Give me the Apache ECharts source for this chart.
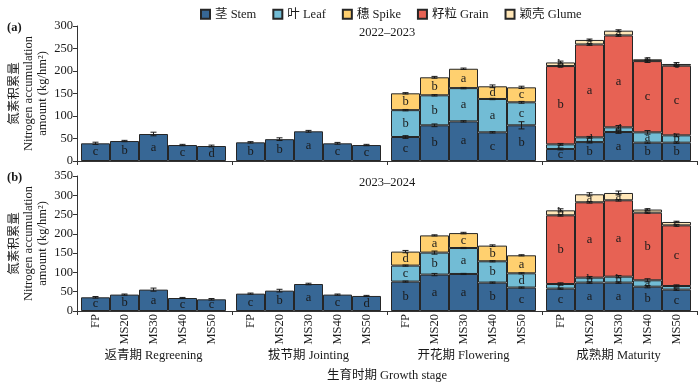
<!DOCTYPE html>
<html>
<head>
<meta charset="utf-8">
<script src="https://cdn.jsdelivr.net/npm/echarts@6/dist/echarts.min.js"></script>
<style>html,body{margin:0;padding:0;background:#fff}#c{width:700px;height:387px}</style>
</head>
<body>
<div id="c"></div>
<script>
const groups = ['返青期 Regreening', '拔节期 Jointing', '开花期 Flowering', '成熟期 Maturity'];
const treatments = ['FP', 'MS20', 'MS30', 'MS40', 'MS50'];
const years = ['2022–2023', '2023–2024'];
const panelTags = ['(a)', '(b)'];
const components = ['茎 Stem', '叶 Leaf', '穗 Spike', '籽粒 Grain', '颖壳 Glume'];
const colors = ['#376795', '#72bcd5', '#ffd06f', '#e76254', '#ffe6b7'];
const yMax = [300, 350];
const yTicks = [50, 50];

const N5 = [null, null, null, null, null];
// 2022–2023 (segment values, kg/hm2): 4 growth stages x 5 treatments
const stemA  = [39.3, 44.4, 60, 35.5, 33.3, 41.5, 48.5, 66, 39.3, 35.5, 53.3, 79.3, 88, 63.7, 79.3, 26.7, 42, 64.4, 40.7, 40.7];
const leafA  = [...N5, ...N5, 59.7, 66.7, 74, 74.1, 51.1, 10.3, 10.6, 10.4, 23, 16.3];
const spikeA = [...N5, ...N5, 37.4, 40, 43, 28.2, 33.3, ...N5];
const grainA = [...N5, ...N5, ...N5, 174, 206.4, 204.2, 158.3, 154.8];
const glumeA = [...N5, ...N5, ...N5, 8, 10, 10.6, 4, 3.8];
// 2023–2024
const stemB  = [35.5, 42.5, 55.4, 33.7, 30.3, 45, 52.8, 70, 42.5, 39, 76.2, 94.4, 96, 73.6, 60.7, 58, 73.6, 73.6, 63, 55.4];
const leafB  = [...N5, ...N5, 41.5, 57, 67.3, 55.3, 37, 12, 12.9, 15.4, 16.6, 9.4];
const spikeB = [...N5, ...N5, 36.3, 44.6, 38.7, 40.6, 46.7, ...N5];
const grainB = [...N5, ...N5, ...N5, 178, 195.3, 198, 175.4, 157.2];
const glumeB = [...N5, ...N5, ...N5, 13, 20.8, 19, 8, 8.8];

// standard errors
const stemErrA  = [2.5, 1.5, 4, 1.5, 2, 1.5, 3, 2, 2, 1.5, 3, 3, 1.5, 1.5, 8, 2, 2, 3, 1.5, 1.5];
const leafErrA  = [...N5, ...N5, 1.5, 1.5, 1.5, 1.5, 2, 2, 2, 4, 4, 3];
const spikeErrA = [...N5, ...N5, 1.5, 2, 1.5, 3, 2.5, ...N5];
const grainErrA = [...N5, ...N5, ...N5, 2, 2, 2, 3, 2];
const glumeErrA = [...N5, ...N5, ...N5, 3, 2, 2, 3, 3];
const stemErrB  = [2, 1.5, 4, 1.5, 2, 1.5, 3.5, 2, 1.5, 1.5, 1.5, 3, 1.5, 1.5, 1.5, 1.5, 2, 2, 3, 2];
const leafErrB  = [...N5, ...N5, 1.5, 4, 1.5, 1.5, 1.5, 3, 3, 3, 4, 3];
const spikeErrB = [...N5, ...N5, 3, 1.5, 2, 2, 1.5, ...N5];
const grainErrB = [...N5, ...N5, ...N5, 2, 2, 2, 1.5, 2];
const glumeErrB = [...N5, ...N5, ...N5, 4, 4, 5, 2, 2];

// significance letters
const stemLetA  = ['c','b','a','c','d','b','b','a','c','c','c','b','a','c','b','c','b','a','b','b'];
const leafLetA  = [...N5, ...N5, 'b','b','a','a','c','c','d','d','a','b'];
const spikeLetA = [...N5, ...N5, 'b','b','a','d','c', ...N5];
const grainLetA = [...N5, ...N5, ...N5, 'b','a','a','c','c'];
const glumeLetA = [...N5, ...N5, ...N5, 'b','a','a','c','c'];
const stemLetB  = ['c','b','a','c','c','c','b','a','c','d','b','a','a','b','c','c','a','a','b','c'];
const leafLetB  = [...N5, ...N5, 'c','b','a','b','d','c','b','b','a','c'];
const spikeLetB = [...N5, ...N5, 'd','a','c','b','a', ...N5];
const grainLetB = [...N5, ...N5, ...N5, 'b','a','a','b','c'];
const glumeLetB = [...N5, ...N5, ...N5, 'b','a','a','c','c'];

const panels = [
  { vals: [stemA, leafA, spikeA, grainA, glumeA], errs: [stemErrA, leafErrA, spikeErrA, grainErrA, glumeErrA], lets: [stemLetA, leafLetA, spikeLetA, grainLetA, glumeLetA] },
  { vals: [stemB, leafB, spikeB, grainB, glumeB], errs: [stemErrB, leafErrB, spikeErrB, grainErrB, glumeErrB], lets: [stemLetB, leafLetB, spikeLetB, grainLetB, glumeLetB] }
];

const FONT = '"Liberation Serif", "Times New Roman", "Noto Sans CJK SC", serif';
const FS = 12.5;
const INK = '#1a1a1a';

// layout
const panelTop = [26, 176];
const panelH = 135;
const plotLeft = 77, plotW = 620;
const groupLeft0 = 81, groupStep = 155, groupW = 145;

const grid = [], xAxis = [], yAxis = [], series = [], title = [];

for (let p = 0; p < 2; p++) {
  grid.push({ left: plotLeft, top: panelTop[p], width: plotW, height: panelH, outerBoundsMode: 'none' });
  xAxis.push({
    gridIndex: p, type: 'category', data: groups, boundaryGap: true,
    axisLine: { lineStyle: { color: '#333', width: 1 } },
    axisTick: { show: true, length: 4, lineStyle: { color: '#333' } },
    axisLabel: { show: false },
    name: p === 1 ? '生育时期 Growth stage' : '',
    nameLocation: 'middle', nameGap: 58, nameMoveOverlap: false,
    nameTextStyle: { fontFamily: FONT, fontSize: FS, color: INK }
  });
  yAxis.push({
    gridIndex: p, type: 'value', min: 0, max: yMax[p], interval: yTicks[p],
    splitLine: { show: false },
    axisLine: { show: true, lineStyle: { color: '#333', width: 1 } },
    axisTick: { show: true, length: 4, lineStyle: { color: '#333' } },
    axisLabel: { fontFamily: FONT, fontSize: FS, color: INK, margin: 4 },
    name: '氮素积累量\nNitrogen accumulation\namount (kg/hm²)',
    nameLocation: 'middle', nameRotate: 90, nameGap: 27, nameMoveOverlap: false,
    nameTextStyle: { fontFamily: FONT, fontSize: FS, color: INK, lineHeight: 14 }
  });
  title.push({ text: panelTags[p], left: 2, top: panelTop[p] - 9,
    textStyle: { fontFamily: FONT, fontSize: FS, fontWeight: 'bold', color: INK } });
  title.push({ text: years[p], left: 354, top: panelTop[p] - 5,
    textStyle: { fontFamily: FONT, fontSize: FS, fontWeight: 'normal', color: INK } });
}

for (let p = 0; p < 2; p++) {
  const P = panels[p];
  for (let g = 0; g < 4; g++) {
    const gi = grid.length;
    grid.push({ left: groupLeft0 + g * groupStep, top: panelTop[p], width: groupW, height: panelH, outerBoundsMode: 'none' });
    xAxis.push({
      gridIndex: gi, type: 'category', data: treatments, boundaryGap: true,
      axisLine: { show: false }, axisTick: { show: false },
      axisLabel: { show: p === 1, rotate: 90, margin: 3, fontFamily: FONT, fontSize: FS, color: INK, interval: 0 },
      name: p === 1 ? groups[g] : '', nameLocation: 'middle', nameGap: 38, nameMoveOverlap: false,
      nameTextStyle: { fontFamily: FONT, fontSize: FS, color: INK }
    });
    yAxis.push({ gridIndex: gi, type: 'value', min: 0, max: yMax[p], show: false, splitLine: { show: false } });

    const cum = [0, 0, 0, 0, 0];
    const errData = [];
    for (let c = 0; c < 5; c++) {
      const seg = P.vals[c].slice(g * 5, g * 5 + 5);
      if (seg.every(v => v == null)) continue;
      const err = P.errs[c].slice(g * 5, g * 5 + 5);
      const lets = P.lets[c].slice(g * 5, g * 5 + 5);
      series.push({
        name: components[c], type: 'bar', stack: 'total' + p + g,
        xAxisIndex: gi, yAxisIndex: gi,
        barCategoryGap: '0%', barGap: '0%',
        itemStyle: { color: colors[c], borderColor: '#262626', borderWidth: 1 },
        label: {
          show: true, position: 'inside', fontFamily: FONT, fontSize: FS, color: INK,
          formatter: (prm) => lets[prm.dataIndex] || ''
        },
        emphasis: { disabled: true },
        data: seg
      });
      for (let i = 0; i < 5; i++) {
        if (seg[i] == null) continue;
        cum[i] += seg[i];
        errData.push([i, cum[i], err[i]]);
      }
    }
    series.push({
      type: 'custom', xAxisIndex: gi, yAxisIndex: gi, z: 5, silent: true,
      data: errData,
      renderItem: (params, api) => {
        const x = api.value(0), y = api.value(1), e = api.value(2);
        const top = api.coord([x, y + e]);
        const bot = api.coord([x, y - e]);
        const hw = 3;
        const st = { stroke: '#1a1a1a', lineWidth: 1 };
        return { type: 'group', children: [
          { type: 'line', shape: { x1: top[0], y1: top[1], x2: bot[0], y2: bot[1] }, style: st },
          { type: 'line', shape: { x1: top[0] - hw, y1: top[1], x2: top[0] + hw, y2: top[1] }, style: st },
          { type: 'line', shape: { x1: bot[0] - hw, y1: bot[1], x2: bot[0] + hw, y2: bot[1] }, style: st }
        ]};
      }
    });
  }
}

const chart = echarts.init(document.getElementById('c'), null, { renderer: 'canvas' });
chart.setOption({
  animation: false,
  backgroundColor: '#fff',
  title: title,
  legend: {
    data: components, left: 195, top: 3, itemWidth: 9, itemHeight: 9, itemGap: 16,
    icon: 'rect',
    textStyle: { fontFamily: FONT, fontSize: FS, color: INK }
  },
  grid: grid, xAxis: xAxis, yAxis: yAxis, series: series
});
</script>
</body>
</html>
